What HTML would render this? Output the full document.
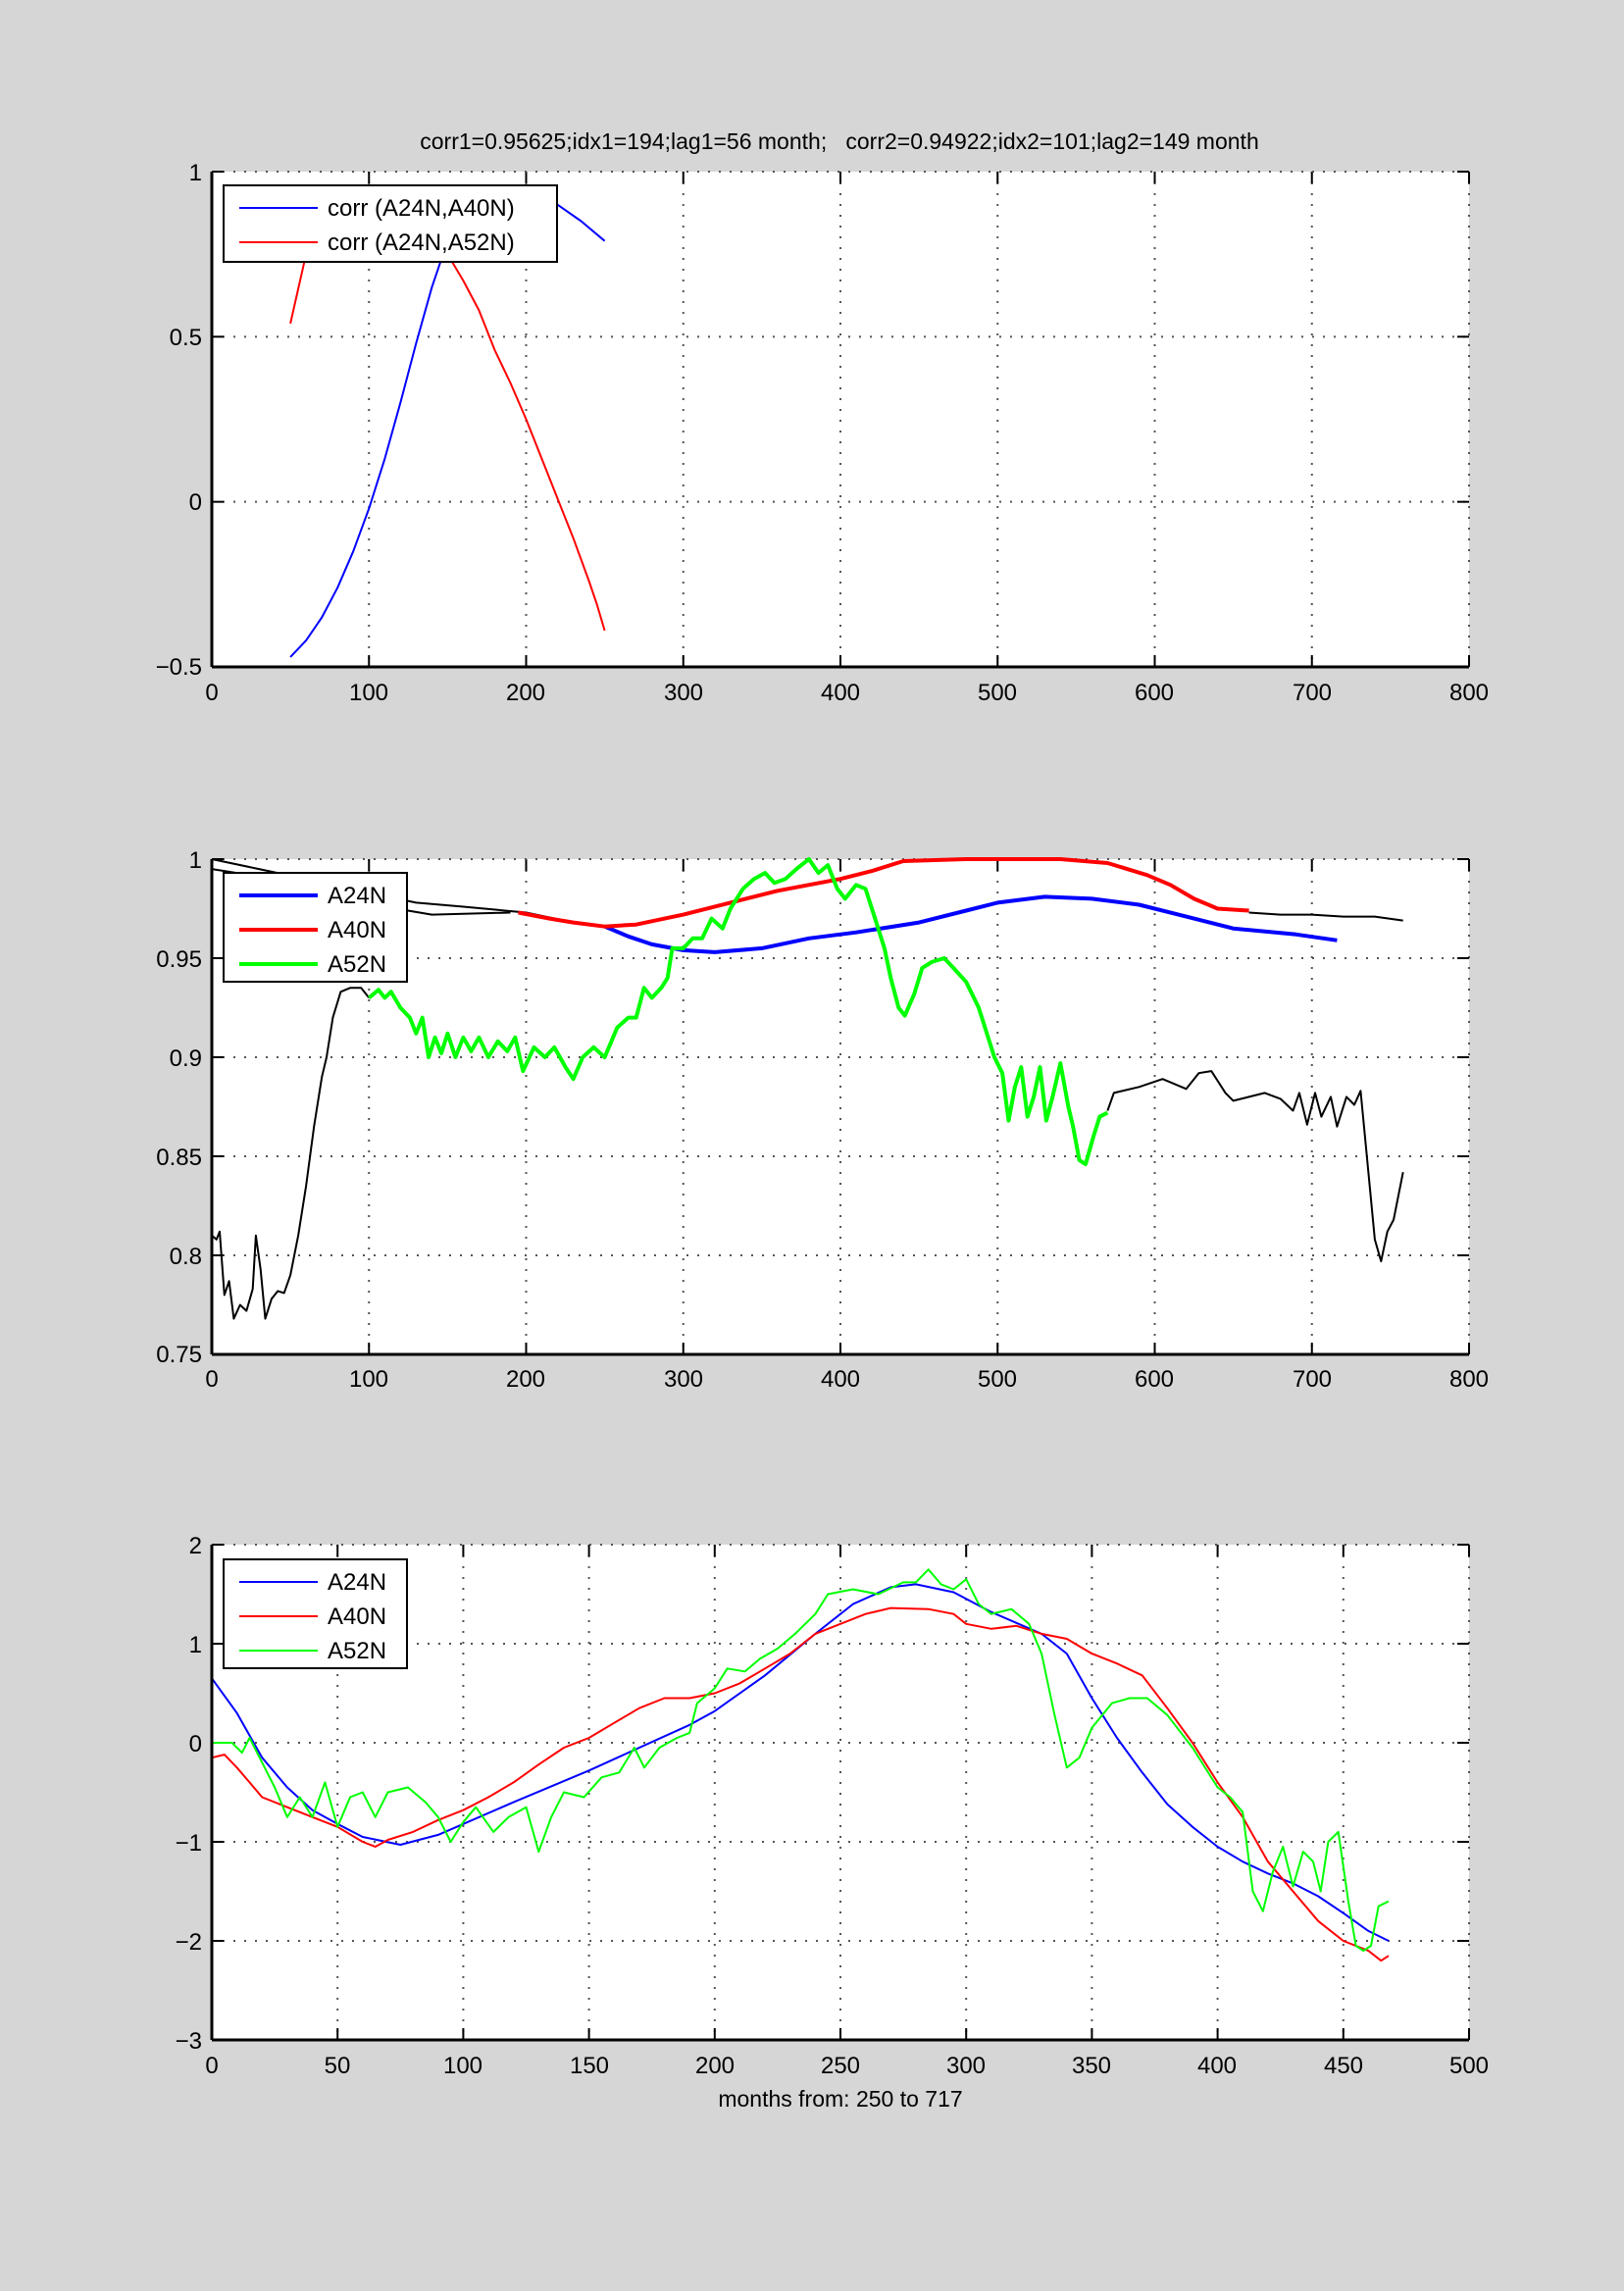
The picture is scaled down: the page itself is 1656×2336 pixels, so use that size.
<!DOCTYPE html>
<html><head><meta charset="utf-8"><style>
html,body{margin:0;padding:0;background:#d6d6d6;}
svg{display:block;font-family:"Liberation Sans",sans-serif;}
</style></head><body>
<svg id="s" width="1656" height="2336" xmlns="http://www.w3.org/2000/svg">
<rect width="1656" height="2336" fill="#d6d6d6"/>
<text x="856" y="152" font-size="23" text-anchor="middle" xml:space="preserve" style="white-space:pre">corr1=0.95625;idx1=194;lag1=56 month;   corr2=0.94922;idx2=101;lag2=149 month</text>
<g id="g1"></g><g id="g2"></g><g id="g3"></g>
<g font-size="24" text-anchor="middle">
<text x="216" y="714">0</text><text x="376" y="714">100</text><text x="536" y="714">200</text><text x="697" y="714">300</text><text x="857" y="714">400</text><text x="1017" y="714">500</text><text x="1177" y="714">600</text><text x="1338" y="714">700</text><text x="1498" y="714">800</text>
<text x="216" y="1414">0</text><text x="376" y="1414">100</text><text x="536" y="1414">200</text><text x="697" y="1414">300</text><text x="857" y="1414">400</text><text x="1017" y="1414">500</text><text x="1177" y="1414">600</text><text x="1338" y="1414">700</text><text x="1498" y="1414">800</text>
<text x="216" y="2114">0</text><text x="344" y="2114">50</text><text x="472" y="2114">100</text><text x="601" y="2114">150</text><text x="729" y="2114">200</text><text x="857" y="2114">250</text><text x="985" y="2114">300</text><text x="1113" y="2114">350</text><text x="1241" y="2114">400</text><text x="1370" y="2114">450</text><text x="1498" y="2114">500</text>
</g>
<g font-size="24" text-anchor="end">
<text x="206" y="184">1</text><text x="206" y="352">0.5</text><text x="206" y="520">0</text><text x="206" y="688">−0.5</text>
<text x="206" y="885">1</text><text x="206" y="986">0.95</text><text x="206" y="1087">0.9</text><text x="206" y="1188">0.85</text><text x="206" y="1289">0.8</text><text x="206" y="1389">0.75</text>
<text x="206" y="1584">2</text><text x="206" y="1685">1</text><text x="206" y="1786">0</text><text x="206" y="1887">−1</text><text x="206" y="1988">−2</text><text x="206" y="2089">−3</text>
</g>
<text x="857" y="2148" font-size="23" text-anchor="middle">months from: 250 to 717</text>
</svg>
<script>
var NS="http://www.w3.org/2000/svg";
function el(p,t,a){var e=document.createElementNS(NS,t);for(var k in a)e.setAttribute(k,a[k]);p.appendChild(e);return e;}
function axes(gid,y0,xmax,xstep,ymin,ymax,ystep,series,legend){
 var g=document.getElementById(gid),L=216,R=1498,T=y0,B=y0+505;
 el(g,"rect",{x:L,y:T,width:R-L,height:B-T,fill:"#fff"});
 function X(v){return L+v/xmax*(R-L);} function Y(v){return B-(v-ymin)/(ymax-ymin)*(B-T);}
 for(var v=0;v<=xmax+1e-9;v+=xstep){var x=X(v);el(g,"line",{x1:x,y1:T,x2:x,y2:B,stroke:"#555","stroke-width":2,"stroke-dasharray":"2 9"});
  el(g,"line",{x1:x,y1:B,x2:x,y2:B-12,stroke:"#000","stroke-width":2});el(g,"line",{x1:x,y1:T,x2:x,y2:T+12,stroke:"#000","stroke-width":2});}
 for(var v=ymin;v<=ymax+1e-9;v+=ystep){var y=Y(v);el(g,"line",{x1:L,y1:y,x2:R,y2:y,stroke:"#555","stroke-width":2,"stroke-dasharray":"2 9"});
  el(g,"line",{x1:L,y1:y,x2:L+12,y2:y,stroke:"#000","stroke-width":2});el(g,"line",{x1:R,y1:y,x2:R-12,y2:y,stroke:"#000","stroke-width":2});}
 series.forEach(function(s){var p=[];for(var i=0;i<s.d.length;i+=2)p.push(X(s.d[i]).toFixed(1)+","+Y(s.d[i+1]).toFixed(1));
  el(g,"polyline",{points:p.join(" "),fill:"none",stroke:s.c,"stroke-width":s.w,"stroke-linejoin":"round"});});
 el(g,"line",{x1:L,y1:B,x2:R,y2:B,stroke:"#000","stroke-width":3});
 el(g,"line",{x1:L,y1:T,x2:L,y2:B,stroke:"#000","stroke-width":3});
 var lg=legend;el(g,"rect",{x:lg.x,y:lg.y,width:lg.w,height:lg.h,fill:"#fff",stroke:"#000","stroke-width":2});
 lg.items.forEach(function(it,i){var yy=lg.y+22+i*35;el(g,"line",{x1:lg.x+16,y1:yy+1,x2:lg.x+96,y2:yy+1,stroke:it.c,"stroke-width":it.w});
  var t=el(g,"text",{x:lg.x+106,y:yy+9,"font-size":24});t.textContent=it.t;});
}
axes("g1",175,800,100,-0.5,1,0.5,[
 {c:"#00f",w:2,d:[50,-0.47,60,-0.42,70,-0.35,80,-0.26,90,-0.15,100,-0.02,110,0.13,120,0.3,130,0.48,140,0.65,150,0.79,160,0.88,170,0.93,180,0.95,194,0.956,205,0.94,220,0.9,235,0.85,250,0.79]},
 {c:"#f00",w:2,d:[50,0.54,60,0.75,70,0.88,85,0.94,101,0.949,115,0.93,130,0.87,140,0.81,150,0.75,160,0.67,170,0.58,180,0.46,190,0.36,200,0.25,210,0.13,220,0.01,230,-0.11,240,-0.24,245,-0.31,250,-0.39]}
],{x:228,y:189,w:340,h:78,items:[{c:"#00f",w:2,t:"corr (A24N,A40N)"},{c:"#f00",w:2,t:"corr (A24N,A52N)"}]});
axes("g2",876,800,100,0.75,1,0.05,[
 {c:"#000",w:2,d:[0,0.81,3,0.808,5,0.812,8,0.78,11,0.787,14,0.768,18,0.775,22,0.772,26,0.783,28,0.81,31,0.793,34,0.768,38,0.778,42,0.782,46,0.781,50,0.79,55,0.81,60,0.835,65,0.865,70,0.89,73,0.9,77,0.92,82,0.933,88,0.935,95,0.935,100,0.93]},
 {c:"#000",w:2,d:[0,1.0,30,0.995,60,0.99,100,0.983,130,0.978,160,0.976,200,0.973,230,0.968,250,0.966]},
 {c:"#000",w:2,d:[0,0.995,40,0.99,80,0.984,110,0.976,140,0.972,190,0.973]},
 {c:"#000",w:2,d:[570,0.873,574,0.882,590,0.885,605,0.889,620,0.884,628,0.892,636,0.893,645,0.882,650,0.878,660,0.88,670,0.882,680,0.879,688,0.873,692,0.882,697,0.866,702,0.882,706,0.87,712,0.88,716,0.865,722,0.88,727,0.876,731,0.883,735,0.85,740,0.808,744,0.797,748,0.812,752,0.818,758,0.842]},
 {c:"#000",w:2,d:[660,0.973,680,0.972,700,0.972,720,0.971,740,0.971,758,0.969]},
 {c:"#00f",w:4,d:[250,0.966,265,0.961,280,0.957,300,0.954,320,0.953,350,0.955,380,0.96,410,0.963,450,0.968,480,0.974,500,0.978,530,0.981,560,0.98,590,0.977,620,0.971,650,0.965,690,0.962,716,0.959]},
 {c:"#f00",w:4,d:[195,0.973,215,0.97,230,0.968,250,0.966,270,0.967,300,0.972,330,0.978,360,0.984,400,0.99,420,0.994,440,0.999,480,1.0,540,1.0,570,0.998,595,0.992,610,0.987,625,0.98,640,0.975,660,0.974]},
 {c:"#0f0",w:4,d:[100,0.93,106,0.934,110,0.93,114,0.933,120,0.925,126,0.92,130,0.912,134,0.92,138,0.9,142,0.91,146,0.902,150,0.912,155,0.9,160,0.91,165,0.903,170,0.91,176,0.9,182,0.908,188,0.903,193,0.91,198,0.893,205,0.905,212,0.9,218,0.905,225,0.895,230,0.889,236,0.9,243,0.905,250,0.9,258,0.915,265,0.92,270,0.92,275,0.935,280,0.93,286,0.935,290,0.94,293,0.955,300,0.955,306,0.96,312,0.96,318,0.97,325,0.965,330,0.975,338,0.985,345,0.99,352,0.993,358,0.988,365,0.99,372,0.995,380,1.0,386,0.993,392,0.997,398,0.985,403,0.98,410,0.987,416,0.985,422,0.97,428,0.955,432,0.94,437,0.925,441,0.921,447,0.932,452,0.945,458,0.948,466,0.95,472,0.945,480,0.938,488,0.925,494,0.91,498,0.9,503,0.892,507,0.868,511,0.885,515,0.895,519,0.87,523,0.88,527,0.895,531,0.868,535,0.88,540,0.897,545,0.875,548,0.865,552,0.848,556,0.846,561,0.86,565,0.87,570,0.872]}
],{x:228,y:890,w:187,h:111,items:[{c:"#00f",w:4,t:"A24N"},{c:"#f00",w:4,t:"A40N"},{c:"#0f0",w:4,t:"A52N"}]});
axes("g3",1575,500,50,-3,2,1,[
 {c:"#00f",w:2,d:[0,0.65,10,0.3,20,-0.15,30,-0.45,40,-0.68,50,-0.82,60,-0.95,75,-1.03,90,-0.93,100,-0.82,120,-0.6,150,-0.28,170,-0.05,190,0.18,200,0.32,220,0.68,240,1.1,255,1.4,270,1.57,280,1.6,295,1.52,310,1.32,330,1.1,340,0.9,350,0.45,360,0.05,370,-0.3,380,-0.62,390,-0.85,400,-1.05,410,-1.2,420,-1.32,430,-1.42,440,-1.55,450,-1.72,460,-1.9,468,-2.0]},
 {c:"#f00",w:2,d:[0,-0.15,5,-0.12,10,-0.25,15,-0.4,20,-0.55,30,-0.65,40,-0.75,50,-0.85,60,-1.0,65,-1.05,70,-0.98,80,-0.9,90,-0.78,100,-0.68,110,-0.55,120,-0.4,130,-0.22,140,-0.05,150,0.05,160,0.2,170,0.35,180,0.45,190,0.45,200,0.5,210,0.6,220,0.75,230,0.9,240,1.1,250,1.2,260,1.3,270,1.36,285,1.35,295,1.3,300,1.2,310,1.15,320,1.18,330,1.1,340,1.05,350,0.9,360,0.8,370,0.68,380,0.35,390,0,400,-0.4,410,-0.75,420,-1.2,430,-1.5,440,-1.8,450,-2.0,460,-2.1,465,-2.2,468,-2.15]},
 {c:"#0f0",w:2,d:[0,0,8,0,12,-0.1,15,0.05,20,-0.2,25,-0.45,30,-0.75,35,-0.55,40,-0.75,45,-0.4,50,-0.85,55,-0.55,60,-0.5,65,-0.75,70,-0.5,78,-0.45,85,-0.6,90,-0.75,95,-1.0,100,-0.8,105,-0.65,112,-0.9,118,-0.75,125,-0.65,130,-1.1,135,-0.75,140,-0.5,148,-0.55,155,-0.35,162,-0.3,168,-0.05,172,-0.25,178,-0.05,185,0.05,190,0.1,193,0.4,200,0.55,205,0.75,212,0.72,218,0.85,225,0.95,232,1.1,240,1.3,245,1.5,255,1.55,265,1.5,275,1.62,280,1.62,285,1.75,290,1.6,295,1.55,300,1.65,305,1.4,310,1.3,318,1.35,325,1.2,330,0.9,335,0.3,340,-0.25,345,-0.15,350,0.15,358,0.4,365,0.45,372,0.45,380,0.28,390,-0.05,400,-0.45,405,-0.55,410,-0.7,414,-1.5,418,-1.7,422,-1.3,426,-1.05,430,-1.45,434,-1.1,438,-1.2,441,-1.5,444,-1.0,448,-0.9,452,-1.6,455,-2.05,458,-2.1,461,-2.05,464,-1.65,468,-1.6]}
],{x:228,y:1590,w:187,h:111,items:[{c:"#00f",w:2,t:"A24N"},{c:"#f00",w:2,t:"A40N"},{c:"#0f0",w:2,t:"A52N"}]});
</script>
</body></html>
